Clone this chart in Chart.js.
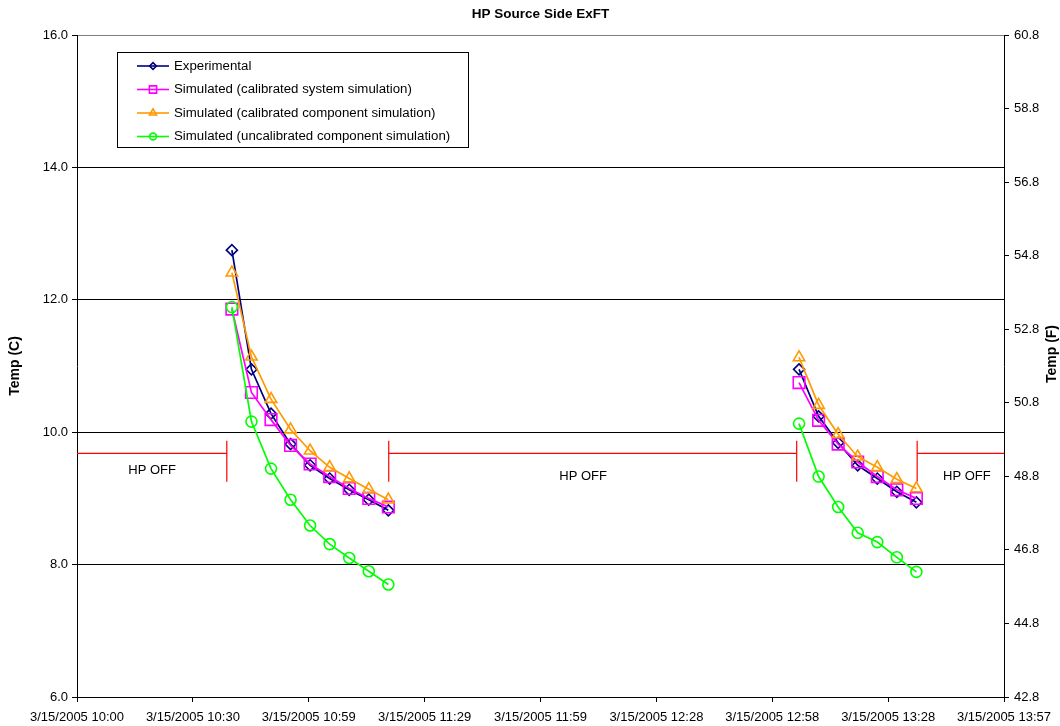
<!DOCTYPE html>
<html>
<head>
<meta charset="utf-8">
<script src="https://cdn.jsdelivr.net/npm/chart.js@4/dist/chart.umd.min.js"></script>
<style>
  html, body { margin: 0; padding: 0; background: #ffffff; }
  #wrap { width: 1060px; height: 726px; }
</style>
</head>
<body>
<div id="wrap"><canvas id="chart" width="1060" height="726"></canvas></div>
<script>
// ---- data -------------------------------------------------------------
const xTickLabels = [
  '3/15/2005 10:00', '3/15/2005 10:30', '3/15/2005 10:59', '3/15/2005 11:29',
  '3/15/2005 11:59', '3/15/2005 12:28', '3/15/2005 12:58', '3/15/2005 13:28',
  '3/15/2005 13:57'
];
const axisStart = '10:00:00';
const axisEnd = '13:57:00';

const run1Times = ['10:39:36', '10:44:36', '10:49:36', '10:54:36', '10:59:36',
                   '11:04:36', '11:09:36', '11:14:36', '11:19:36'];
const run2Times = ['13:04:36', '13:09:36', '13:14:36', '13:19:36', '13:24:36',
                   '13:29:36', '13:34:36'];

const experimental1    = [12.75, 10.95, 10.28, 9.82, 9.50, 9.30, 9.13, 8.98, 8.82];
const experimental2    = [10.95, 10.24, 9.84, 9.50, 9.30, 9.10, 8.94];
const calSystem1       = [11.86, 10.60, 10.19, 9.80, 9.52, 9.33, 9.15, 9.00, 8.87];
const calSystem2       = [10.75, 10.18, 9.82, 9.55, 9.33, 9.13, 9.00];
const calComponent1    = [12.41, 11.14, 10.50, 10.04, 9.72, 9.47, 9.30, 9.14, 8.98];
const calComponent2    = [11.13, 10.41, 9.97, 9.63, 9.47, 9.29, 9.15];
const uncalComponent1  = [11.89, 10.16, 9.45, 8.98, 8.59, 8.31, 8.10, 7.90, 7.70];
const uncalComponent2  = [10.13, 9.33, 8.87, 8.48, 8.34, 8.11, 7.89];

// heat pump off periods and the level of the bracket drawn for them
const hpOffPeriods = [['10:00:00', '10:38:18'], ['11:19:42', '13:04:00'], ['13:34:48', '13:57:00']];
const hpOffLevel = 9.68;
const hpOffCapLow = 9.25;
const hpOffCapHigh = 9.87;
const hpOffText = 'HP OFF';

const seriesNames = [
  'Experimental',
  'Simulated (calibrated system simulation)',
  'Simulated (calibrated component simulation)',
  'Simulated (uncalibrated component simulation)'
];

// ---- helpers ------------------------------------------------------------
function toMin(t) {
  const p = t.split(':').map(Number);
  return p[0] * 60 + p[1] + (p[2] || 0) / 60;
}
const t0 = toMin(axisStart);
const rel = t => toMin(t) - t0;
const xMax = rel(axisEnd);

function twoRuns(a, b) {
  const pts = run1Times.map((t, i) => ({ x: rel(t), y: a[i] }));
  pts.push({ x: (rel(run1Times[run1Times.length - 1]) + rel(run2Times[0])) / 2, y: null });
  run2Times.forEach((t, i) => pts.push({ x: rel(t), y: b[i] }));
  return pts;
}

function offBracket(period, idx) {
  const s = rel(period[0]), e = rel(period[1]);
  const pts = [];
  if (idx > 0) {
    pts.push({ x: s, y: hpOffCapHigh }, { x: s, y: hpOffCapLow }, { x: s, y: hpOffLevel });
  } else {
    pts.push({ x: s, y: hpOffLevel });
  }
  pts.push({ x: e, y: hpOffLevel });
  if (e < xMax) pts.push({ x: e, y: hpOffCapHigh }, { x: e, y: hpOffCapLow });
  return pts;
}

const styles = [
  { color: '#000080', shape: 'rectRot', radius: 5.5 },
  { color: '#FF00FF', shape: 'rect', radius: 8.2 },
  { color: '#FF9900', shape: 'triangle', radius: 6.6 },
  { color: '#00FF00', shape: 'circle', radius: 5.5 }
];
const seriesData = [
  twoRuns(experimental1, experimental2),
  twoRuns(calSystem1, calSystem2),
  twoRuns(calComponent1, calComponent2),
  twoRuns(uncalComponent1, uncalComponent2)
];

const datasets = seriesData.map((d, i) => ({
  label: seriesNames[i],
  data: d,
  borderColor: styles[i].color,
  backgroundColor: 'rgba(0,0,0,0)',
  borderWidth: 1.7,
  pointStyle: styles[i].shape,
  pointRadius: styles[i].radius,
  pointBorderWidth: 1.6,
  pointBorderColor: styles[i].color,
  pointBackgroundColor: 'rgba(0,0,0,0)',
  tension: 0,
  spanGaps: false,
  order: 3 - i
}));
hpOffPeriods.forEach((p, i) => datasets.push({
  label: hpOffText,
  data: offBracket(p, i),
  borderColor: '#FF0000',
  borderWidth: 1.2,
  pointRadius: 0,
  tension: 0,
  order: 10
}));

// ---- extra drawing: title, axis titles, legend box, HP OFF notes ------------
function drawMarker(ctx, shape, x, y, r) {
  ctx.beginPath();
  if (shape === 'rectRot') {
    ctx.moveTo(x - r, y); ctx.lineTo(x, y - r); ctx.lineTo(x + r, y); ctx.lineTo(x, y + r); ctx.closePath();
  } else if (shape === 'rect') {
    const s = Math.SQRT1_2 * r; ctx.rect(x - s, y - s, 2 * s, 2 * s);
  } else if (shape === 'triangle') {
    const a = 2 * Math.PI / 3;
    ctx.moveTo(x, y - r);
    ctx.lineTo(x + Math.sin(a) * r, y - Math.cos(a) * r);
    ctx.lineTo(x + Math.sin(2 * a) * r, y - Math.cos(2 * a) * r);
    ctx.closePath();
  } else {
    ctx.arc(x, y, r, 0, Math.PI * 2);
  }
  ctx.stroke();
}

const decor = {
  id: 'decor',
  afterDraw(chart, args, opts) {
    const { ctx, chartArea: ca, scales } = chart;
    ctx.save();
    ctx.fillStyle = '#000';
    ctx.textAlign = 'center';
    ctx.textBaseline = 'middle';

    // chart title
    ctx.font = 'bold 13.5px "Liberation Sans", Arial, sans-serif';
    ctx.fillText(opts.title, (ca.left + ca.right) / 2, 14);

    // axis titles
    ctx.font = 'bold 14px "Liberation Sans", Arial, sans-serif';
    ctx.save(); ctx.translate(15, (ca.top + ca.bottom) / 2); ctx.rotate(-Math.PI / 2);
    ctx.fillText(opts.leftTitle, 0, 0); ctx.restore();
    ctx.save(); ctx.translate(1052, 354); ctx.rotate(-Math.PI / 2);
    ctx.fillText(opts.rightTitle, 0, 0); ctx.restore();

    // HP OFF notes below each bracket
    ctx.font = '13px "Liberation Sans", Arial, sans-serif';
    const yLine = scales.y.getPixelForValue(hpOffLevel);
    opts.notes.forEach(n => {
      ctx.fillText(hpOffText, scales.x.getPixelForValue(rel(n.at)), yLine + n.dy);
    });

    // legend box
    const L = opts.legend;
    ctx.fillStyle = '#fff';
    ctx.fillRect(L.x, L.y, L.w, L.h);
    ctx.strokeStyle = '#000';
    ctx.lineWidth = 1;
    ctx.strokeRect(L.x + 0.5, L.y + 0.5, L.w, L.h);
    ctx.textAlign = 'left';
    ctx.fillStyle = '#000';
    ctx.font = '13.25px "Liberation Sans", Arial, sans-serif';
    seriesNames.forEach((name, i) => {
      const y = L.y + L.firstRow + i * L.rowGap;
      ctx.strokeStyle = styles[i].color;
      ctx.lineWidth = 1.6;
      ctx.beginPath(); ctx.moveTo(L.x + 20, y); ctx.lineTo(L.x + 52, y); ctx.stroke();
      drawMarker(ctx, styles[i].shape, L.x + 36, y, styles[i].radius * 0.62);
      ctx.fillText(name, L.x + 57, y);
    });
    ctx.restore();
  }
};

const tickFont = { family: '"Liberation Sans", Arial, sans-serif', size: 13 };

new Chart(document.getElementById('chart'), {
  type: 'line',
  data: { datasets },
  plugins: [decor],
  options: {
    responsive: false,
    animation: false,
    events: [],
    layout: { padding: { top: 35, left: 0, right: 0, bottom: 0 } },
    plugins: {
      legend: { display: false },
      title: { display: false },
      tooltip: { enabled: false },
      decor: {
        title: 'HP Source Side ExFT',
        leftTitle: 'Temp (C)',
        rightTitle: 'Temp (F)',
        notes: [
          { at: '10:19:12', dy: 17 },
          { at: '12:09:24', dy: 23 },
          { at: '13:47:30', dy: 23 }
        ],
        legend: { x: 117, y: 52, w: 351, h: 95, firstRow: 14, rowGap: 23.5 }
      }
    },
    scales: {
      x: {
        type: 'linear',
        min: 0,
        max: xMax,
        afterBuildTicks: s => {
          s.ticks = xTickLabels.map((_, i) => ({ value: i * xMax / (xTickLabels.length - 1) }));
        },
        afterFit: s => { s.height = 29; },
        ticks: {
          callback: (v, i) => xTickLabels[i],
          autoSkip: false, maxRotation: 0, minRotation: 0,
          color: '#000', font: tickFont, padding: 8
        },
        grid: { drawOnChartArea: false, drawTicks: true, tickLength: 5, tickColor: '#000' },
        border: { color: '#000', width: 1 }
      },
      y: {
        position: 'left',
        min: 6, max: 16,
        afterBuildTicks: s => {
          const t = []; for (let v = 6; v <= 16 + 1e-9; v += 2) t.push({ value: v }); s.ticks = t;
        },
        afterFit: s => { s.width = 77; },
        ticks: { callback: v => v.toFixed(1), color: '#000', font: tickFont, padding: 4 },
        grid: {
          color: c => (c.tick && c.tick.value === 16 ? '#808080' : '#000'),
          lineWidth: 1, tickLength: 5, tickColor: '#000'
        },
        border: { color: '#000', width: 1 }
      },
      y2: {
        position: 'right',
        min: 42.8, max: 60.8,
        afterBuildTicks: s => {
          const t = []; for (let v = 42.8; v <= 60.8 + 1e-9; v += 2) t.push({ value: v }); s.ticks = t;
        },
        afterFit: s => { s.width = 56; },
        ticks: { callback: v => v.toFixed(1), color: '#000', font: tickFont, padding: 5 },
        grid: { drawOnChartArea: false, tickLength: 5, tickColor: '#000' },
        border: { color: '#000', width: 1 }
      }
    }
  }
});
</script>
</body>
</html>
